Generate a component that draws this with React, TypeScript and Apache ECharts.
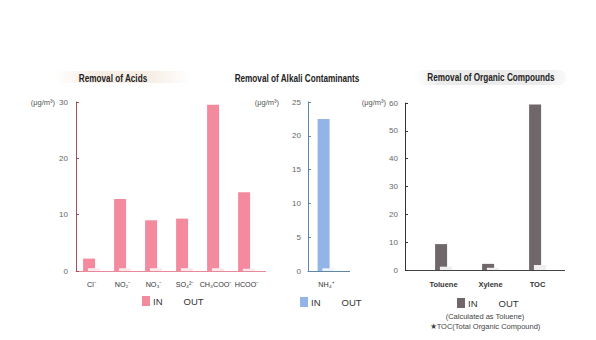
import React, { useEffect, useRef } from "react";
import * as echarts from "echarts";

const acidCats = ["Cl⁻", "NO₂⁻", "NO₃⁻", "SO₄²⁻", "CH₃COO⁻", "HCOO⁻"];
const acidIn = [2.2, 12.8, 9.0, 9.3, 29.5, 14.0];
const acidOut = [0.5, 0.5, 0.5, 0.5, 0.5, 0.4];

const alkaliCats = ["NH₄⁺"];
const alkaliIn = [22.5];
const alkaliOut = [0.4];

const orgCats = ["Toluene", "Xylene", "TOC"];
const orgIn = [9.3, 2.2, 59.5];
const orgOut = [1.2, 0.8, 1.8];

const titles = ["Removal of Acids", "Removal of Alkali Contaminants", "Removal of Organic Compounds"];
const unitText = "(μg/m³)";
const notes = ["(Calculated as Toluene)", "★TOC(Total Organic Compound)"];

const FONT = "'Liberation Sans', Arial, sans-serif";
const PINK = "#f48a9e";
const PINK_OUT = "#fde9ed";
const BLUE = "#93b4e6";
const BLUE_OUT = "#eef3fc";
const GRAY = "#6f6769";
const GRAY_OUT = "#efedee";

export default function App() {
  const ref = useRef<HTMLDivElement>(null);
  useEffect(() => {
    document.body.style.margin = "0";
    const chart = echarts.init(ref.current!, null, { renderer: "svg" });
    const axisLabelY = { fontSize: 8, color: "#666", fontFamily: FONT };
    const mkY = (idx: number, max: number, interval: number, color: string, margin: number, offset = 0) => ({
      type: "value",
      gridIndex: idx,
      min: 0,
      max,
      interval,
      offset,
      splitLine: { show: false },
      axisLine: { show: true, lineStyle: { color, width: 1 } },
      axisTick: { show: true, inside: true, length: 3, lineStyle: { color } },
      axisLabel: { ...axisLabelY, margin },
    });
    const mkX = (idx: number, data: string[], color: string, bold = false) => ({
      type: "category",
      gridIndex: idx,
      data,
      axisLine: { show: true, lineStyle: { color, width: 1 } },
      axisTick: { show: false },
      axisLabel: {
        fontSize: bold ? 7.5 : 7.2,
        fontWeight: bold ? "bold" : "normal",
        color: "#333",
        margin: 10,
        fontFamily: FONT,
        interval: 0,
      },
    });
    const mkBar = (name: string, idx: number, data: number[], color: string) => ({
      type: "bar",
      name,
      xAxisIndex: idx,
      yAxisIndex: idx,
      data,
      barWidth: 12,
      barGap: "-60%",
      itemStyle: { color },
    });
    const mkLegend = (left: number, top: number, color: string) => ({
      left,
      top,
      padding: 0,
      itemWidth: 8,
      itemHeight: 10,
      itemGap: 10,
      icon: "rect",
      selectedMode: false,
      textStyle: { fontSize: 9.5, color: "#333", fontFamily: FONT, padding: [0, 0, 0, -2] },
      data: [
        { name: "IN", itemStyle: { color } },
        { name: "OUT", itemStyle: { color: "rgba(255,255,255,0)" } },
      ],
    });
    const titleStyle = { fontSize: 10, fontWeight: "bold", fill: "#222", fontFamily: FONT };
    const unitStyle = { fontSize: 7.5, fill: "#555", fontFamily: FONT };
    chart.setOption({
      animation: false,
      backgroundColor: "#fff",
      grid: [
        { left: 76, top: 102, width: 186, height: 169 },
        { left: 308, top: 102, width: 36, height: 169 },
        { left: 420, top: 103, width: 141, height: 167 },
      ],
      xAxis: [mkX(0, acidCats, "#e88a9a"), mkX(1, alkaliCats, "#5f87a8"), mkX(2, orgCats, "#444", true)],
      yAxis: [
        mkY(0, 30, 10, "#a5505f", 8),
        mkY(1, 25, 5, "#5f87a8", 7),
        mkY(2, 60, 10, "#333", 7, 15),
      ],
      legend: [mkLegend(142, 296, PINK), mkLegend(300, 297, BLUE), mkLegend(457, 298, GRAY)],
      series: [
        mkBar("IN", 0, acidIn, PINK),
        mkBar("OUT", 0, acidOut, PINK_OUT),
        mkBar("IN", 1, alkaliIn, BLUE),
        mkBar("OUT", 1, alkaliOut, BLUE_OUT),
        mkBar("IN", 2, orgIn, GRAY),
        mkBar("OUT", 2, orgOut, GRAY_OUT),
      ],
      graphic: [
        {
          type: "rect",
          shape: { x: 55, y: 71, width: 135, height: 12 },
          style: {
            fill: new echarts.graphic.LinearGradient(0, 0, 1, 0, [
              { offset: 0, color: "rgba(245,236,226,0)" },
              { offset: 0.3, color: "rgba(245,236,226,0.9)" },
              { offset: 0.7, color: "rgba(245,236,226,0.9)" },
              { offset: 1, color: "rgba(245,236,226,0)" },
            ]),
          },
          z: -1,
        },
        {
          type: "rect",
          shape: { x: 416, y: 70, width: 150, height: 15, r: 7 },
          style: {
            fill: new echarts.graphic.LinearGradient(0, 0, 1, 0, [
              { offset: 0, color: "rgba(236,236,236,0)" },
              { offset: 0.15, color: "rgba(236,236,236,1)" },
              { offset: 0.85, color: "rgba(236,236,236,1)" },
              { offset: 1, color: "rgba(236,236,236,0.3)" },
            ]),
          },
          z: -1,
        },
        { type: "text", x: 113, y: 79, scaleX: 0.82, style: { text: titles[0], ...titleStyle, align: "center", verticalAlign: "middle" } },
        { type: "text", x: 297, y: 79, scaleX: 0.82, style: { text: titles[1], ...titleStyle, align: "center", verticalAlign: "middle" } },
        { type: "text", x: 491, y: 78, scaleX: 0.82, style: { text: titles[2], ...titleStyle, align: "center", verticalAlign: "middle" } },
        { type: "text", x: 55, y: 102, style: { text: unitText, ...unitStyle, align: "right", verticalAlign: "middle" } },
        { type: "text", x: 279, y: 102, style: { text: unitText, ...unitStyle, align: "right", verticalAlign: "middle" } },
        { type: "text", x: 386, y: 102, style: { text: unitText, ...unitStyle, align: "right", verticalAlign: "middle" } },
        { type: "line", shape: { x1: 262, y1: 271.5, x2: 266, y2: 271.5 }, style: { stroke: "#e88a9a", lineWidth: 1 } },
        { type: "line", shape: { x1: 344, y1: 271.5, x2: 350, y2: 271.5 }, style: { stroke: "#5f87a8", lineWidth: 1 } },
        { type: "line", shape: { x1: 405, y1: 270.5, x2: 420, y2: 270.5 }, style: { stroke: "#444", lineWidth: 1 } },
        { type: "line", shape: { x1: 561, y1: 270.5, x2: 565, y2: 270.5 }, style: { stroke: "#444", lineWidth: 1 } },
        { type: "text", x: 485, y: 316, style: { text: notes[0], fontSize: 7.5, fill: "#444", fontFamily: FONT, align: "center", verticalAlign: "middle" } },
        { type: "text", x: 485, y: 326, style: { text: notes[1], fontSize: 7.5, fill: "#444", fontFamily: FONT, align: "center", verticalAlign: "middle" } },
      ],
    });
    return () => chart.dispose();
  }, []);
  return <div ref={ref} style={{ width: 596, height: 340 }} />;
}
